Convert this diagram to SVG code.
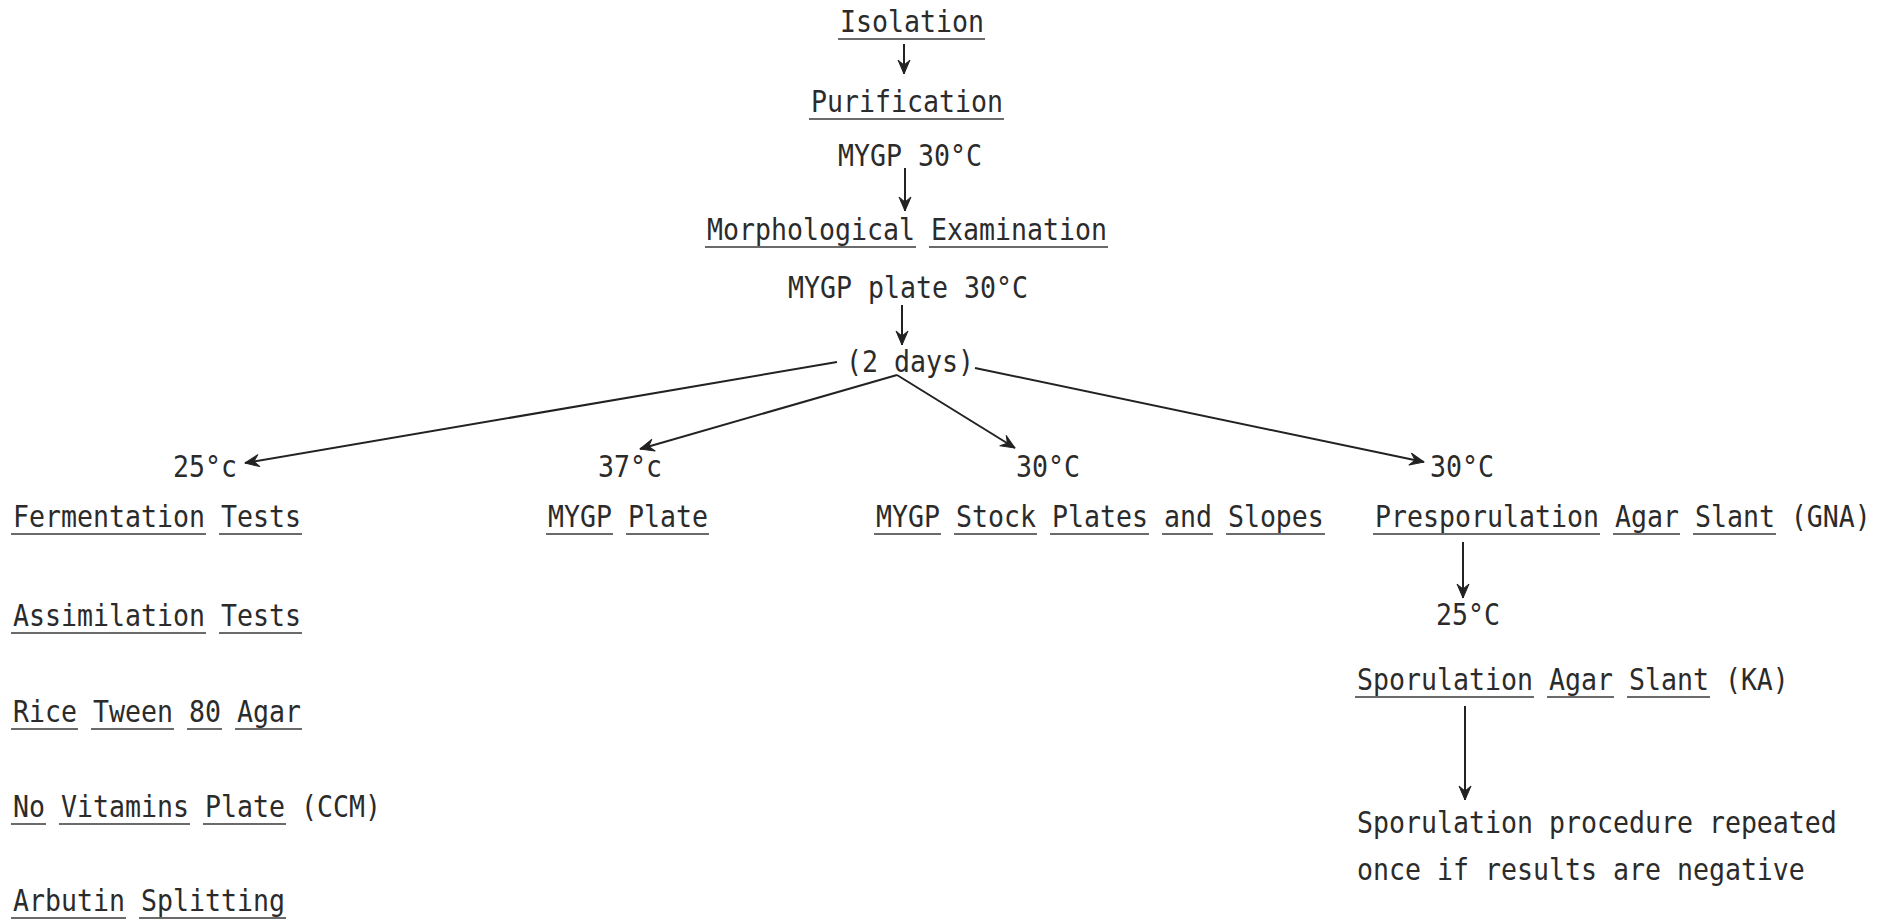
<svg xmlns="http://www.w3.org/2000/svg" width="1894" height="920" viewBox="0 0 1894 920">
<style>
text{font-family:"DejaVu Sans Mono","Liberation Mono",monospace;font-size:30px;fill:#2b2b2b;}
.u{stroke:#3a3a3a;stroke-width:1.6;fill:none;}
.c{stroke:#222;stroke-width:2;fill:none;}
</style>
<defs>
<marker id="ah" viewBox="-16 -8 18 16" refX="0" refY="0" markerWidth="18" markerHeight="16" orient="auto" markerUnits="userSpaceOnUse">
<path d="M0,0 L-14,-6 L-9,0 L-14,6 Z" fill="#222" stroke="#222" stroke-width="1" stroke-linejoin="round"/>
</marker>
</defs>
<rect width="1894" height="920" fill="#fff"/>

<g id="connectors">
<path class="c" d="M904,44 L904,74" marker-end="url(#ah)"/>
<path class="c" d="M905,168 L905,211" marker-end="url(#ah)"/>
<path class="c" d="M902,305 L902,345" marker-end="url(#ah)"/>
<path class="c" d="M837,362 L245,463" stroke-width="1.6" marker-end="url(#ah)"/>
<path class="c" d="M897,375 L640,449" marker-end="url(#ah)"/>
<path class="c" d="M897,375 L1015,448" marker-end="url(#ah)"/>
<path class="c" d="M975,368 L1424,462" stroke-width="2.4" marker-end="url(#ah)"/>
<path class="c" d="M1463,542 L1463,598" marker-end="url(#ah)"/>
<path class="c" d="M1465,706 L1465,800" marker-end="url(#ah)"/>
</g>

<g id="isolation">
<text transform="translate(840,32) scale(0.886,1)">Isolation</text>
<path class="u" d="M838,39 H985"/>
</g>
<g id="purification">
<text transform="translate(811,112) scale(0.886,1)">Purification</text>
<path class="u" d="M809,119 H1004"/>
</g>
<g id="mygp30">
<text transform="translate(838,166) scale(0.886,1)">MYGP 30°C</text>
</g>
<g id="morphological">
<text transform="translate(707,240) scale(0.886,1)">Morphological Examination</text>
<path class="u" d="M705,247 H916 M929,247 H1108"/>
</g>
<g id="mygpplate30">
<text transform="translate(788,298) scale(0.886,1)">MYGP plate 30°C</text>
</g>
<g id="twodays">
<text transform="translate(846,372) scale(0.886,1)">(2 days)</text>
</g>

<g id="t25">
<text transform="translate(173,477) scale(0.886,1)">25°c</text>
</g>
<g id="t37">
<text transform="translate(598,477) scale(0.886,1)">37°c</text>
</g>
<g id="t30a">
<text transform="translate(1016,477) scale(0.886,1)">30°C</text>
</g>
<g id="t30b">
<text transform="translate(1430,477) scale(0.886,1)">30°C</text>
</g>

<g id="fermentation">
<text transform="translate(13,527) scale(0.886,1)">Fermentation Tests</text>
<path class="u" d="M11,534 H206 M219,534 H302"/>
</g>
<g id="mygpplate">
<text transform="translate(548,527) scale(0.886,1)">MYGP Plate</text>
<path class="u" d="M546,534 H613 M626,534 H709"/>
</g>
<g id="stock">
<text transform="translate(876,527) scale(0.886,1)">MYGP Stock Plates and Slopes</text>
<path class="u" d="M874,534 H941 M954,534 H1037 M1050,534 H1149 M1162,534 H1213 M1226,534 H1325"/>
</g>
<g id="presporulation">
<text transform="translate(1375,527) scale(0.886,1)">Presporulation Agar Slant (GNA)</text>
<path class="u" d="M1373,534 H1600 M1613,534 H1680 M1693,534 H1776"/>
</g>

<g id="t25b">
<text transform="translate(1436,625) scale(0.886,1)">25°C</text>
</g>
<g id="assimilation">
<text transform="translate(13,626) scale(0.886,1)">Assimilation Tests</text>
<path class="u" d="M11,633 H206 M219,633 H302"/>
</g>
<g id="sporulation">
<text transform="translate(1357,690) scale(0.886,1)">Sporulation Agar Slant (KA)</text>
<path class="u" d="M1355,697 H1534 M1547,697 H1614 M1627,697 H1710"/>
</g>
<g id="rice">
<text transform="translate(13,722) scale(0.886,1)">Rice Tween 80 Agar</text>
<path class="u" d="M11,729 H78 M91,729 H174 M187,729 H222 M235,729 H302"/>
</g>
<g id="novitamins">
<text transform="translate(13,817) scale(0.886,1)">No Vitamins Plate (CCM)</text>
<path class="u" d="M11,824 H46 M59,824 H190 M203,824 H286"/>
</g>
<g id="repeated">
<text transform="translate(1357,833) scale(0.886,1)">Sporulation procedure repeated</text>
<text transform="translate(1357,880) scale(0.886,1)">once if results are negative</text>
</g>
<g id="arbutin">
<text transform="translate(13,911) scale(0.886,1)">Arbutin Splitting</text>
<path class="u" d="M11,918 H126 M139,918 H286"/>
</g>
</svg>
